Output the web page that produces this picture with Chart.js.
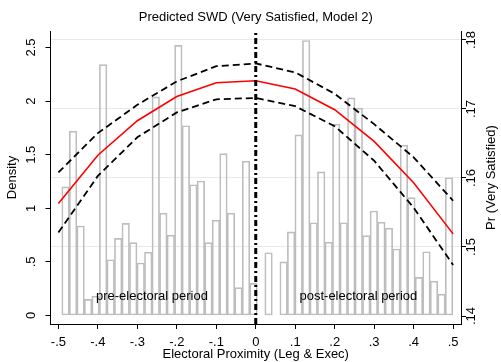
<!DOCTYPE html>
<html>
<head>
<meta charset="utf-8">
<title>Predicted SWD</title>
<script src="https://cdn.jsdelivr.net/npm/chart.js@4.4.1/dist/chart.umd.min.js"></script>
<style>
  html, body { margin: 0; padding: 0; background: #fff; }
  canvas { display: block; }
</style>
</head>
<body>
<canvas id="chart" width="501" height="362"></canvas>
<script>
// histogram of electoral proximity (52 bins), density scale
var binStart = -0.4914;
var binWidth = 0.01905;
var histDensity = [
  1.20, 1.72, 0.835, 0.15, 0.18, 2.34, 0.52, 0.72, 0.86, 0.68, 0.49, 0.59, 2.04,
  0.955, 0.75, 2.52, 1.77, 1.22, 1.255, 0.68, 0.89, 1.51, 0.955, 0.26, 1.44, 0.30,
  0, 0.585, 0,
  0.50, 0.78, 1.685, 2.565, 0.865, 1.34, 0.685, 1.785, 0.865, 2.03, 1.935, 0.745,
  0.975, 0.87, 0.815, 0.62, 1.59, 1.10, 0.355, 0.595, 0.32, 0.20, 1.285
];

// predicted Pr(very satisfied) with 95% CI
var proximity = [-0.5, -0.4, -0.3, -0.2, -0.1, 0, 0.1, 0.2, 0.3, 0.4, 0.5];
var predicted = [0.1563, 0.1633, 0.1683, 0.1718, 0.1738, 0.1741, 0.1729, 0.1699, 0.1653, 0.1593, 0.1519];
var upperCI   = [0.1608, 0.1665, 0.1706, 0.1740, 0.1762, 0.1766, 0.1753, 0.1722, 0.1678, 0.1630, 0.1567];
var lowerCI   = [0.1521, 0.1603, 0.1659, 0.1695, 0.1714, 0.1716, 0.1704, 0.1675, 0.1625, 0.1557, 0.1474];

var proxTicks = [-0.5, -0.4, -0.3, -0.2, -0.1, 0, 0.1, 0.2, 0.3, 0.4, 0.5];
var densityTicks = [0, 0.5, 1, 1.5, 2, 2.5];
var probTicks = [0.14, 0.15, 0.16, 0.17, 0.18];

var FONT = '"Liberation Sans", Arial, Helvetica, sans-serif';

// stata style labels: .5 instead of 0.5
function stataLabel(v) {
  var r = Math.round(v * 100) / 100;
  if (r === 0) return '0';
  var s = String(Math.abs(r)).replace(/^0\./, '.');
  return (r < 0 ? '-' : '') + s;
}

function fixTicks(list) {
  return function(scale) {
    scale.ticks = list.map(function(v) { return { value: v }; });
  };
}

function rotText(ctx, txt, x, y) {
  ctx.save();
  ctx.translate(x, y);
  ctx.rotate(-Math.PI / 2);
  ctx.fillText(txt, 0, 0);
  ctx.restore();
}

var overlay = {
  id: 'overlay',
  afterDatasetsDraw: function(chart) {
    var ctx = chart.ctx;
    var area = chart.chartArea;
    var x = chart.scales.x, y = chart.scales.y;

    // election line at 0
    var px = x.getPixelForValue(0);
    ctx.save();
    ctx.strokeStyle = '#000';
    ctx.lineWidth = 3;
    ctx.setLineDash([6, 3, 2, 3]);
    ctx.beginPath();
    ctx.moveTo(px, area.bottom);
    ctx.lineTo(px, area.top);
    ctx.stroke();
    ctx.restore();

    ctx.save();
    ctx.fillStyle = '#000';
    ctx.font = '13px ' + FONT;
    ctx.textAlign = 'center';
    ctx.textBaseline = 'middle';
    ctx.fillText('pre-electoral period', x.getPixelForValue(-0.263), y.getPixelForValue(0.177));
    ctx.fillText('post-electoral period', x.getPixelForValue(0.26), y.getPixelForValue(0.177));
    ctx.restore();
  },
  afterDraw: function(chart) {
    var ctx = chart.ctx;
    var y = chart.scales.y, y2 = chart.scales.y2;
    ctx.save();
    ctx.fillStyle = '#000';
    ctx.font = '13px ' + FONT;
    ctx.textAlign = 'center';
    ctx.textBaseline = 'middle';
    densityTicks.forEach(function(v) {
      rotText(ctx, stataLabel(v), y.right - 19, y.getPixelForValue(v));
    });
    probTicks.forEach(function(v) {
      rotText(ctx, stataLabel(v), y2.left + 10, y2.getPixelForValue(v));
    });
    rotText(ctx, 'Pr (Very Satisfied)', y2.left + 30, (y2.top + y2.bottom) / 2);
    ctx.restore();
  }
};

var histData = histDensity.map(function(d, i) {
  return { x: binStart + (i + 0.5) * binWidth, y: d > 0 ? d : null };
});

function pairUp(vals) {
  return proximity.map(function(p, i) { return { x: p, y: vals[i] }; });
}

new Chart(document.getElementById('chart'), {
  type: 'bar',
  data: {
    datasets: [
      {
        type: 'line', data: pairUp(upperCI), yAxisID: 'y2', order: 1,
        borderColor: '#000', borderWidth: 1.8, borderDash: [7, 4],
        pointRadius: 0, tension: 0, fill: false
      },
      {
        type: 'line', data: pairUp(predicted), yAxisID: 'y2', order: 1,
        borderColor: 'rgb(255,0,0)', borderWidth: 1.6,
        pointRadius: 0, tension: 0, fill: false
      },
      {
        type: 'line', data: pairUp(lowerCI), yAxisID: 'y2', order: 1,
        borderColor: '#000', borderWidth: 1.8, borderDash: [7, 4],
        pointRadius: 0, tension: 0, fill: false
      },
      {
        type: 'bar', data: histData, yAxisID: 'y', order: 2,
        backgroundColor: 'rgba(255,255,255,0)',
        borderColor: '#bdbdbd', borderWidth: 1, borderSkipped: false,
        barPercentage: 1, categoryPercentage: 1
      }
    ]
  },
  options: {
    responsive: false,
    devicePixelRatio: 1,
    animation: false,
    layout: { padding: 0 },
    plugins: {
      legend: { display: false },
      tooltip: { enabled: false },
      title: {
        display: true,
        text: 'Predicted SWD (Very Satisfied, Model 2)',
        fullSize: false,
        color: '#000',
        font: { family: FONT, size: 13, weight: 'normal' },
        padding: { top: 10, bottom: 5.4 }
      }
    },
    scales: {
      x: {
        type: 'linear',
        position: 'bottom',
        min: -0.52,
        max: 0.52,
        offset: false,
        afterBuildTicks: fixTicks(proxTicks),
        afterFit: function(s) { s.height = 38; },
        ticks: {
          callback: stataLabel, color: '#000', autoSkip: false,
          maxRotation: 0, padding: 6, font: { family: FONT, size: 13 }
        },
        grid: { drawOnChartArea: false, offset: false, tickLength: 5, tickColor: '#000' },
        border: { color: '#000', width: 1 },
        title: {
          display: true, text: 'Electoral Proximity (Leg & Exec)', color: '#000',
          font: { family: FONT, size: 13 }, padding: { top: 0, bottom: 0 }
        }
      },
      y: {
        type: 'linear',
        position: 'left',
        min: -0.0793,
        max: 2.654,
        afterBuildTicks: fixTicks(densityTicks),
        afterFit: function(s) { s.width = 50.5; },
        ticks: { display: false },
        grid: { drawOnChartArea: false, tickLength: 5, tickColor: '#000' },
        border: { color: '#000', width: 1 },
        title: {
          display: true, text: 'Density', color: '#000',
          font: { family: FONT, size: 13 }, padding: { top: 5, bottom: 0 }
        }
      },
      y2: {
        type: 'linear',
        position: 'right',
        min: 0.138841,
        max: 0.1813,
        afterBuildTicks: fixTicks(probTicks),
        afterFit: function(s) { s.width = 40; },
        ticks: { display: false },
        grid: {
          drawOnChartArea: true,
          tickLength: 5,
          tickColor: '#000',
          lineWidth: 1,
          color: function(c) {
            if (c.tick && Math.abs(c.tick.value - 0.14) < 1e-6) return 'rgba(0,0,0,0)';
            return 'rgb(226,235,238)';
          }
        },
        border: { color: '#000', width: 1 }
      }
    }
  },
  plugins: [overlay]
});
</script>
</body>
</html>
